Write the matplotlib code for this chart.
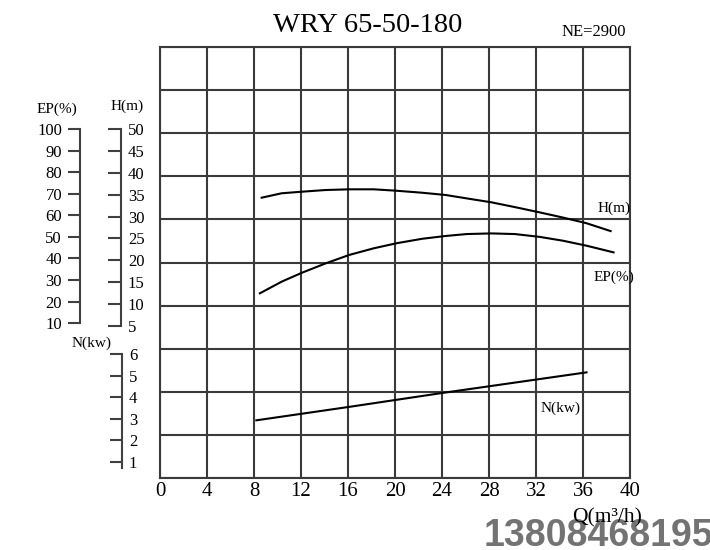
import matplotlib.pyplot as plt

plt.rcParams['font.family'] = ['Liberation Serif', 'DejaVu Serif']

# curve data
q_h = [8.65, 10.35, 12.06, 14.1, 16.1, 18.2, 20.1, 22.3, 24.3, 26.1, 28.2, 30.2, 32.3, 34.3, 36.3, 38.35]
head = [34.36, 35.37, 35.73, 36.12, 36.28, 36.28, 35.96, 35.5, 34.98, 34.2, 33.3, 32.2, 31.0, 29.8, 28.5, 26.7]

q_ep = [8.5, 10.35, 12.06, 14.1, 16.1, 18.2, 20.1, 22.3, 24.3, 26.1, 28.2, 30.2, 32.3, 34.3, 36.3, 38.6]
eff = [23.8, 29.2, 33.3, 37.7, 41.6, 44.7, 47.0, 49.1, 50.4, 51.3, 51.6, 51.3, 50.0, 48.2, 45.9, 42.8]

q_n = [8.2, 16.2, 24.2, 36.3]
power = [2.93, 3.56, 4.21, 5.15]

q_ticks = [0, 4, 8, 12, 16, 20, 24, 28, 32, 36, 40]
h_ticks = [5, 10, 15, 20, 25, 30, 35, 40, 45, 50]
ep_ticks = [10, 20, 30, 40, 50, 60, 70, 80, 90, 100]
n_ticks = [1, 2, 3, 4, 5, 6]

W, H = 710, 550
fig = plt.figure(figsize=(7.1, 5.5), dpi=100)

def fx(px):
    return px / W

def fy(py):
    return 1 - py / H

gc = '#3a3a3a'
ax = fig.add_axes([fx(160), fy(478), (630 - 160) / W, (478 - 47) / H])
ax.set_xlim(0, 40)
ax.set_ylim(0, 10)
ax.set_xticks(q_ticks)
ax.set_yticks(range(11))
ax.set_yticklabels([])
ax.grid(True, color=gc, lw=1.5)
ax.tick_params(axis='y', length=0)
ax.tick_params(axis='x', length=0, pad=3, labelsize=15)
for s in ax.spines.values():
    s.set_color(gc)
    s.set_linewidth(1.5)

sc = '#404040'

# H scale
ax_h = ax.twinx()
ax_h.set_ylim(-29.93, 68.92)
for k in ['top', 'bottom', 'left']:
    ax_h.spines[k].set_visible(False)
ax_h.spines['right'].set_position(('axes', -0.083))
ax_h.spines['right'].set_bounds(5, 50)
ax_h.spines['right'].set_color(sc)
ax_h.spines['right'].set_linewidth(1.5)
ax_h.set_yticks(h_ticks)
ax_h.tick_params(axis='y', direction='in', length=9.5, width=1.5, color=sc,
                 labelsize=12, pad=5)
ax_h.plot(q_h, head, color='black', lw=1.5)

# EP scale
ax_ep = ax.twinx()
ax_ep.set_ylim(-61.9, 138.1)
for k in ['top', 'bottom', 'right']:
    ax_ep.spines[k].set_visible(False)
ax_ep.spines['left'].set_visible(True)
ax_ep.yaxis.tick_left()
ax_ep.spines['left'].set_position(('axes', -0.170))
ax_ep.spines['left'].set_bounds(10, 100)
ax_ep.spines['left'].set_color(sc)
ax_ep.spines['left'].set_linewidth(1.5)
ax_ep.set_yticks(ep_ticks)
ax_ep.tick_params(axis='y', direction='out', length=9, width=1.5, color=sc,
                  labelsize=12, pad=4)
ax_ep.plot(q_ep, eff, color='black', lw=1.5)

# N scale
ax_n = ax.twinx()
ax_n.set_ylim(0.26, 20.21)
for k in ['top', 'bottom', 'left']:
    ax_n.spines[k].set_visible(False)
ax_n.spines['right'].set_position(('axes', -0.081))
ax_n.spines['right'].set_bounds(0.72, 6)
ax_n.spines['right'].set_color(sc)
ax_n.spines['right'].set_linewidth(1.5)
ax_n.set_yticks(n_ticks)
ax_n.tick_params(axis='y', direction='in', length=9, width=1.5, color=sc,
                 labelsize=12, pad=5)
ax_n.plot(q_n, power, color='black', lw=1.5)

# texts
fig.text(fx(368), fy(26), 'WRY 65-50-180', ha='center', va='center', fontsize=20.5)
fig.text(fx(594), fy(32), 'NE=2900', ha='center', va='center', fontsize=12)
fig.text(fx(57), fy(109), 'EP(%)', ha='center', va='center', fontsize=11)
fig.text(fx(127), fy(106), 'H(m)', ha='center', va='center', fontsize=11)
fig.text(fx(92), fy(343), 'N(kw)', ha='center', va='center', fontsize=11)
fig.text(fx(614), fy(208), 'H(m)', ha='center', va='center', fontsize=11)
fig.text(fx(614), fy(277), 'EP(%)', ha='center', va='center', fontsize=11)
fig.text(fx(561), fy(408), 'N(kw)', ha='center', va='center', fontsize=11)
fig.text(fx(484), fy(546), '13808468195', ha='left', va='baseline', fontsize=27,
         family='Liberation Sans', fontweight='bold', color='#737373')
fig.text(fx(607), fy(518), 'Q(m³/h)', ha='center', va='center', fontsize=15.5)

fig.savefig('out.png', dpi=100)
